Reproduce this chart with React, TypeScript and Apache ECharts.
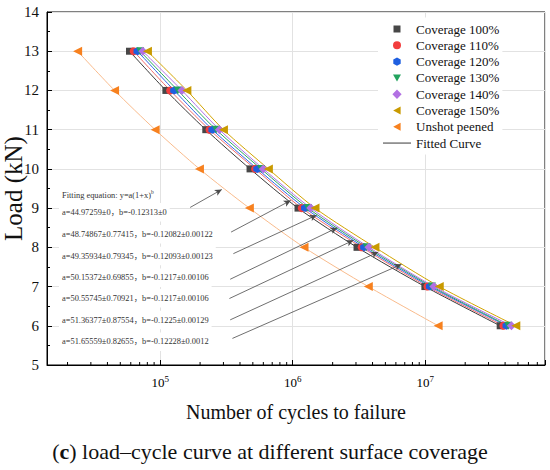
import React, { useEffect, useRef } from 'react';
import * as echarts from 'echarts';

// Load levels (kN)
const loads = [13, 12, 11, 10, 9, 8, 7, 6];
// Number of cycles to failure
const cov100 = [58700, 110400, 220800, 476400, 1096000, 3055000, 9930000, 36730000];
const cov110 = [63100, 118900, 235500, 520000, 1169000, 3311000, 10380000, 38820000];
const cov120 = [67450, 127600, 247700, 540800, 1239000, 3459000, 10840000, 41020000];
const cov130 = [70630, 135800, 264200, 576800, 1303000, 3614000, 11220000, 42270000];
const cov140 = [73960, 145900, 279900, 599800, 1368000, 3758000, 11610000, 44670000];
const cov150 = [80170, 158900, 299900, 654600, 1472000, 4169000, 12740000, 48190000];
const unshot = [23820, 45290, 91620, 197700, 470900, 1216000, 3715000, 12500000];

const seriesNames = [
  'Coverage 100%',
  'Coverage 110%',
  'Coverage 120%',
  'Coverage 130%',
  'Coverage 140%',
  'Coverage 150%',
  'Unshot peened',
];
const fittedName = 'Fitted Curve';

const fitTitle = 'Fitting equation: y=a(1+x)';
const fitTexts = [
  'a=44.97259±0，b=-0.12313±0',
  'a=48.74867±0.77415，b=-0.12082±0.00122',
  'a=49.35934±0.79345，b=-0.12093±0.00123',
  'a=50.15372±0.69855，b=-0.1217±0.00106',
  'a=50.55745±0.70921，b=-0.1217±0.00106',
  'a=51.36377±0.87554，b=-0.1225±0.00129',
  'a=51.65559±0.82655，b=-0.12228±0.0012',
];

// Annotation arrows in data space: [cycles, load]
const arrowFrom = [
  [168300, 9.017], [342800, 8.389], [356500, 7.839], [337400, 7.186],
  [332800, 6.695], [337400, 6.151], [350800, 5.678],
];
const arrowTo = [
  [291700, 9.474], [966000, 9.195], [1517000, 8.821], [2168000, 8.5],
  [2864000, 8.178], [4416000, 7.88], [6620000, 7.567],
];

const xMin = 14000;
const xMax = 80000000;
const decades = [1e4, 1e5, 1e6, 1e7];
const minorMultipliers = [2, 3, 4, 5, 6, 7, 8, 9];

const caption = ' load–cycle curve at different surface coverage';

const FONT = "'Liberation Serif', 'Times New Roman', 'Noto Sans CJK SC', serif";

// legend icons drawn in a 28 x 10 box (corner moves fix the box)
const BOX = 'M0 0M28 10';
const legendIcons = [
  `path://${BOX}M10.5 1.5H17.5V8.5H10.5Z`,
  `path://${BOX}M10 5A4 4 0 1 0 18 5A4 4 0 1 0 10 5Z`,
  `path://${BOX}M14 0.8L17.7 2.9L17.7 7.1L14 9.2L10.3 7.1L10.3 2.9Z`,
  `path://${BOX}M10 1.5H18L14 8.5Z`,
  `path://${BOX}M14 0.3L18.6 5L14 9.7L9.4 5Z`,
  `path://${BOX}M10.2 5L17.6 1V9Z`,
  `path://${BOX}M10.2 5L17.6 1V9Z`,
];
const fittedIcon = `path://${BOX}M0 4.5H28V5.4H0Z`;

export default function App() {
  const ref = useRef<HTMLDivElement>(null);

  useEffect(() => {
    const chart = echarts.init(ref.current as HTMLDivElement, null, { renderer: 'svg' });

    const allValues = [cov100, cov110, cov120, cov130, cov140, cov150, unshot];
    const colors = ['#474747', '#f23d3d', '#1f5fe0', '#23a35e', '#b271e3', '#c99a00', '#f7811f'];
    const lineColors = ['#3a3a3a', '#f26b6b', '#2f66e6', '#2aa860', '#b16fe6', '#d2a400', '#f9bb8c'];
    const hexagon = 'path://M5 0L9.33 2.5L9.33 7.5L5 10L0.67 7.5L0.67 2.5Z';
    const symbols = ['rect', 'circle', hexagon, 'triangle', 'diamond', 'triangle', 'triangle'];
    const sizes = [7, 8, 8, 8, 9, 9, 9];
    const rotates = [0, 0, 0, 180, 0, 90, 90];

    const series: any[] = [];
    allValues.forEach((vals, i) => {
      const data = vals.map((v, j) => [v, loads[j]]);
      series.push({
        type: 'line',
        name: seriesNames[i] + ' curve',
        data,
        symbol: 'none',
        smooth: 0.25,
        lineStyle: { color: lineColors[i], width: 1 },
        silent: true,
        z: 2,
        ...(i === 6
          ? {
              markLine: {
                silent: true,
                symbol: ['none', 'arrow'],
                symbolSize: [5, 7],
                label: { show: false },
                lineStyle: { color: '#4a4a4a', width: 0.8, type: 'solid' },
                data: arrowFrom.map((f, k) => [{ coord: f }, { coord: arrowTo[k] }]),
                z: 5,
              },
            }
          : {}),
      });
    });
    allValues.forEach((vals, i) => {
      series.push({
        type: 'scatter',
        name: seriesNames[i],
        data: vals.map((v, j) => [v, loads[j]]),
        symbol: symbols[i],
        symbolSize: sizes[i],
        symbolRotate: rotates[i],
        itemStyle: { color: colors[i], opacity: 1 },
        z: 3,
      });
    });
    series.push({
      type: 'line',
      name: fittedName,
      data: [],
      symbol: 'none',
      lineStyle: { color: '#222', width: 1 },
      itemStyle: { color: '#222' },
    });

    const minorTicks: number[][] = [];
    decades.forEach((d) => {
      minorMultipliers.forEach((m) => {
        const v = d * m;
        if (v > xMin && v < xMax) minorTicks.push([v, 5]);
      });
    });
    series.push({
      type: 'custom',
      name: 'minor ticks',
      silent: true,
      data: minorTicks,
      z: 4,
      renderItem: (params: any, api: any) => {
        const p = api.coord([api.value(0), api.value(1)]);
        return {
          type: 'line',
          shape: { x1: p[0], y1: p[1], x2: p[0], y2: p[1] - 3 },
          style: { stroke: '#000', lineWidth: 1 },
        };
      },
    });

    const rowY = [212.3, 234.3, 256, 277.7, 298.3, 320, 341.7];
    const textGraphics: any[] = [
      {
        type: 'text',
        x: 59,
        y: 195,
        z: 1,
        silent: true,
        style: {
          text: fitTitle + '{sup|b}',
          verticalAlign: 'middle',
          fill: '#333',
          font: `8.4px ${FONT}`,
          backgroundColor: '#fff',
          padding: [4, 3, 4, 3],
          rich: { sup: { fontSize: 5.5, fill: '#333', fontFamily: FONT, padding: [0, 0, 6, 0] } },
        },
      },
      ...fitTexts.map((t, i) => ({
        type: 'text',
        x: 59,
        y: rowY[i],
        z: 1,
        silent: true,
        style: {
          text: t,
          verticalAlign: 'middle',
          fill: '#333',
          font: `8.4px ${FONT}`,
          backgroundColor: '#fff',
          padding: [5, 3, 5, 3],
        },
      })),
      {
        type: 'text',
        x: 270,
        y: 451.5,
        silent: true,
        style: {
          text: '({b|c})' + caption,
          align: 'center',
          verticalAlign: 'middle',
          fill: '#111',
          font: `22px ${FONT}`,
          rich: { b: { fontWeight: 'bold', fontSize: 22, fontFamily: FONT, fill: '#111' } },
        },
      },
    ];

    const option: any = {
      animation: false,
      backgroundColor: '#fff',
      grid: {
        left: 47,
        right: 5,
        top: 12,
        bottom: 105,
        containLabel: false,
        outerBoundsMode: 'none',
        show: true,
        borderColor: '#000',
        borderWidth: 1,
        backgroundColor: 'transparent',
      },
      legend: {
        orient: 'vertical',
        left: 378,
        top: 17.5,
        itemWidth: 28,
        itemHeight: 10,
        itemGap: 3.3,
        padding: [5, 3, 5, 5],
        backgroundColor: '#fff',
        symbolRotate: 0,
        textStyle: { fontSize: 13, fontFamily: FONT, color: '#111', lineHeight: 13 },
        data: [
          ...seriesNames.map((n, i) => ({ name: n, icon: legendIcons[i] })),
          { name: fittedName, icon: fittedIcon },
        ],
      },
      xAxis: {
        type: 'log',
        logBase: 10,
        min: xMin,
        max: xMax,
        axisLine: { show: true, lineStyle: { color: '#000', width: 1 } },
        axisTick: { show: true, inside: true, length: 5, lineStyle: { color: '#000' } },
        axisLabel: {
          margin: 9,
          color: '#000',
          fontFamily: FONT,
          fontSize: 13,
          formatter: (v: number) => {
            const e = Math.log10(v);
            const r = Math.round(e);
            if (Math.abs(e - r) > 1e-6) return '';
            return `{base|10}{sup|${r}}`;
          },
          rich: {
            base: { fontSize: 13, fontFamily: FONT, color: '#000' },
            sup: { fontSize: 9, fontFamily: FONT, color: '#000', padding: [0, 0, 8, 0] },
          },
        },
        splitLine: { show: true, lineStyle: { color: '#e2e2e2', width: 1 } },
        name: 'Number of cycles to failure',
        nameLocation: 'middle',
        nameGap: 37,
        nameMoveOverlap: false,
        nameTextStyle: { fontSize: 20, fontFamily: FONT, color: '#111' },
      },
      yAxis: {
        type: 'value',
        min: 5,
        max: 14,
        interval: 1,
        axisLine: { show: true, lineStyle: { color: '#000', width: 1 } },
        axisTick: { show: true, inside: true, length: 5, lineStyle: { color: '#000' } },
        minorTick: { show: true, splitNumber: 2, length: 3, lineStyle: { color: '#000' } },
        axisLabel: { fontSize: 15, fontFamily: FONT, color: '#111', margin: 8 },
        splitLine: { show: true, lineStyle: { color: '#e2e2e2', width: 1 } },
        name: 'Load (kN)',
        nameLocation: 'middle',
        nameGap: 21,
        nameMoveOverlap: false,
        nameTextStyle: { fontSize: 25, fontFamily: FONT, color: '#111' },
      },
      graphic: textGraphics,
      series,
    };

    chart.setOption(option);
    return () => chart.dispose();
  }, []);

  return (
    <div
      ref={ref}
      style={{ position: 'absolute', left: 0, top: 0, width: 550, height: 470, background: '#fff' }}
    />
  );
}
